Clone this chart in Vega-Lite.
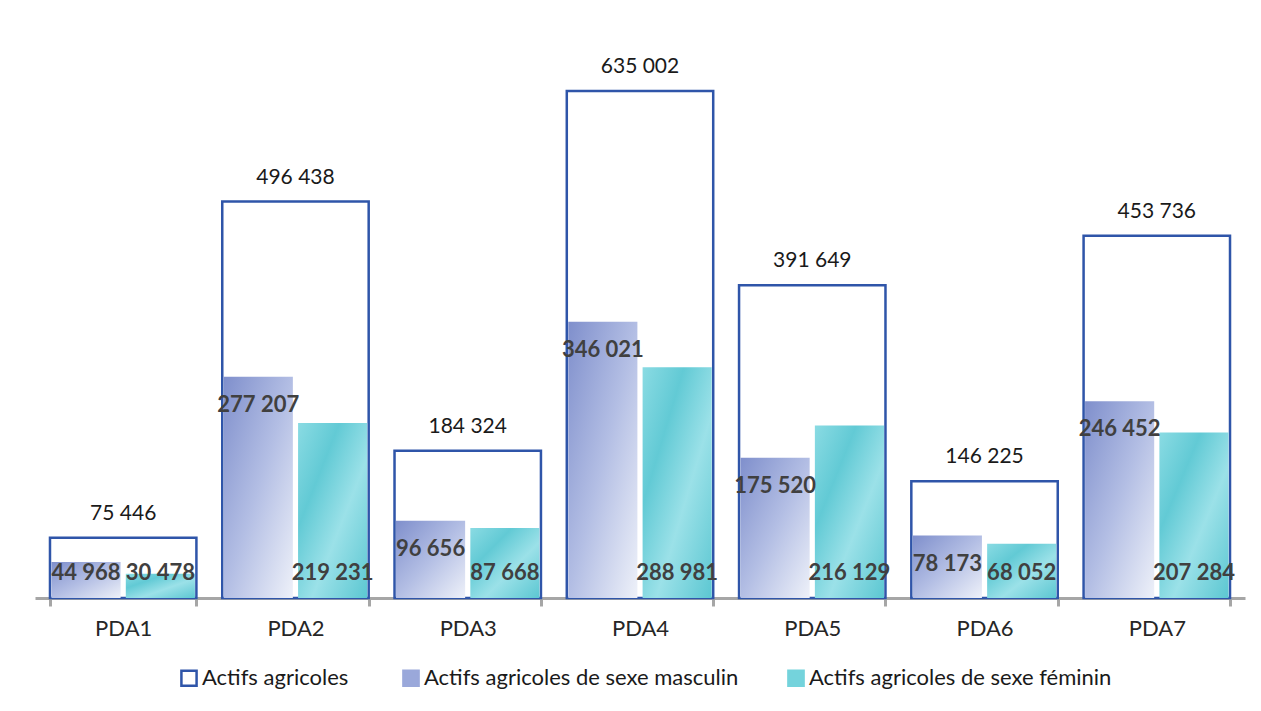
{
  "$schema": "https://vega.github.io/schema/vega-lite/v6.json",
  "width": 1210,
  "height": 559,
  "padding": {"left": 35, "top": 39, "right": 16, "bottom": 5},
  "background": "white",
  "config": {
    "view": {"stroke": null},
    "font": "Lato",
    "locale": {"number": {"decimal": ",", "thousands": " ", "grouping": [3], "currency": ["", " €"]}}
  },
  "data": {
    "values": [
      {"pda": "PDA1", "serie": "Actifs  agricoles", "value": 75446},
      {"pda": "PDA1", "serie": "Actifs agricoles de sexe masculin", "value": 44968},
      {"pda": "PDA1", "serie": "Actifs agricoles de sexe féminin", "value": 30478},
      {"pda": "PDA2", "serie": "Actifs  agricoles", "value": 496438},
      {"pda": "PDA2", "serie": "Actifs agricoles de sexe masculin", "value": 277207},
      {"pda": "PDA2", "serie": "Actifs agricoles de sexe féminin", "value": 219231},
      {"pda": "PDA3", "serie": "Actifs  agricoles", "value": 184324},
      {"pda": "PDA3", "serie": "Actifs agricoles de sexe masculin", "value": 96656},
      {"pda": "PDA3", "serie": "Actifs agricoles de sexe féminin", "value": 87668},
      {"pda": "PDA4", "serie": "Actifs  agricoles", "value": 635002},
      {"pda": "PDA4", "serie": "Actifs agricoles de sexe masculin", "value": 346021},
      {"pda": "PDA4", "serie": "Actifs agricoles de sexe féminin", "value": 288981},
      {"pda": "PDA5", "serie": "Actifs  agricoles", "value": 391649},
      {"pda": "PDA5", "serie": "Actifs agricoles de sexe masculin", "value": 175520},
      {"pda": "PDA5", "serie": "Actifs agricoles de sexe féminin", "value": 216129},
      {"pda": "PDA6", "serie": "Actifs  agricoles", "value": 146225},
      {"pda": "PDA6", "serie": "Actifs agricoles de sexe masculin", "value": 78173},
      {"pda": "PDA6", "serie": "Actifs agricoles de sexe féminin", "value": 68052},
      {"pda": "PDA7", "serie": "Actifs  agricoles", "value": 453736},
      {"pda": "PDA7", "serie": "Actifs agricoles de sexe masculin", "value": 246452},
      {"pda": "PDA7", "serie": "Actifs agricoles de sexe féminin", "value": 207284}
    ]
  },
  "encoding": {
    "x": {
      "field": "pda",
      "type": "nominal",
      "scale": {"paddingInner": 0.15, "paddingOuter": 0.087},
      "axis": {
        "title": null,
        "labelAngle": 0,
        "labelFontSize": 22,
        "labelFont": "Lato",
        "labelColor": "#262626",
        "domainColor": "#a6a6a6",
        "domainWidth": 3,
        "tickColor": "#a6a6a6",
        "tickWidth": 3,
        "tickSize": 8,
        "tickBand": "extent",
        "labelPadding": 12
      }
    }
  },
  "layer": [
    {
      "transform": [{"filter": "datum.serie === 'Actifs  agricoles'"}],
      "mark": {"type": "bar", "strokeWidth": 2.5},
      "encoding": {
        "y": {"field": "value", "type": "quantitative", "scale": {"domain": [0, 700000]}, "axis": null},
        "fill": {
          "field": "serie",
          "type": "nominal",
          "scale": {
            "domain": ["Actifs  agricoles", "Actifs agricoles de sexe masculin", "Actifs agricoles de sexe féminin"],
            "range": ["#ffffff", "#9aa8da", "#74d3dc"]
          },
          "legend": {
            "title": null,
            "orient": "none",
            "legendX": 143,
            "legendY": 628,
            "direction": "horizontal",
            "symbolType": "square",
            "symbolSize": 230,
            "symbolStrokeWidth": 2.5,
            "labelFontSize": 22,
            "labelFont": "Lato",
            "labelColor": "#1a1a1a",
            "labelOffset": 2,
            "columnPadding": 44,
            "labelLimit": 500
          }
        },
        "stroke": {
          "field": "serie",
          "type": "nominal",
          "scale": {
            "domain": ["Actifs  agricoles", "Actifs agricoles de sexe masculin", "Actifs agricoles de sexe féminin"],
            "range": ["#2f55a9", "#9aa8da", "#74d3dc"]
          },
          "legend": {
            "title": null,
            "orient": "none",
            "legendX": 143,
            "legendY": 628,
            "direction": "horizontal",
            "symbolType": "square",
            "symbolSize": 230,
            "symbolStrokeWidth": 2.5,
            "labelFontSize": 22,
            "labelFont": "Lato",
            "labelColor": "#1a1a1a",
            "labelOffset": 2,
            "columnPadding": 44,
            "labelLimit": 500
          }
        }
      }
    },
    {
      "transform": [{"filter": "datum.serie === 'Actifs agricoles de sexe masculin'"}],
      "mark": {
        "type": "bar",
        "fill": {
          "gradient": "linear",
          "x1": 0, "y1": 0, "x2": 1, "y2": 1,
          "stops": [
            {"offset": 0, "color": "#7f8fcc"},
            {"offset": 0.5, "color": "#b3bee4"},
            {"offset": 1, "color": "#eef1f9"}
          ]
        }
      },
      "encoding": {
        "y": {"field": "value", "type": "quantitative"},
        "xOffset": {
          "field": "serie",
          "type": "nominal",
          "scale": {
            "domain": ["Actifs agricoles de sexe masculin", "Actifs agricoles de sexe féminin"],
            "paddingInner": 0.07,
            "paddingOuter": 0.02
          }
        }
      }
    },
    {
      "transform": [{"filter": "datum.serie === 'Actifs agricoles de sexe féminin'"}],
      "mark": {
        "type": "bar",
        "fill": {
          "gradient": "linear",
          "x1": 0, "y1": 0, "x2": 1, "y2": 1,
          "stops": [
            {"offset": 0, "color": "#8adbe3"},
            {"offset": 0.3, "color": "#62cad5"},
            {"offset": 0.6, "color": "#9be1e8"},
            {"offset": 1, "color": "#5cc7d2"}
          ]
        }
      },
      "encoding": {
        "y": {"field": "value", "type": "quantitative"},
        "xOffset": {"field": "serie", "type": "nominal"}
      }
    },
    {
      "transform": [{"filter": "datum.serie === 'Actifs  agricoles'"}],
      "mark": {"type": "text", "baseline": "middle", "dy": -24, "fontSize": 21, "font": "Lato", "color": "#1a1a1a"},
      "encoding": {
        "y": {"field": "value", "type": "quantitative"},
        "text": {"field": "value", "type": "quantitative", "format": ",d"}
      }
    },
    {
      "transform": [
        {"filter": "datum.serie === 'Actifs agricoles de sexe masculin'"},
        {"calculate": "max(datum.value, 66000)", "as": "labelpos"}
      ],
      "mark": {"type": "text", "baseline": "middle", "dy": 28, "fontSize": 22, "font": "Lato", "fontWeight": "bold", "color": "#404040"},
      "encoding": {
        "y": {"field": "labelpos", "type": "quantitative"},
        "xOffset": {"field": "serie", "type": "nominal"},
        "text": {"field": "value", "type": "quantitative", "format": ",d"}
      }
    },
    {
      "transform": [{"filter": "datum.serie === 'Actifs agricoles de sexe féminin'"}],
      "mark": {"type": "text", "baseline": "middle", "dy": -25, "fontSize": 22, "font": "Lato", "fontWeight": "bold", "color": "#404040"},
      "encoding": {
        "y": {"datum": 0, "type": "quantitative"},
        "xOffset": {"field": "serie", "type": "nominal"},
        "text": {"field": "value", "type": "quantitative", "format": ",d"}
      }
    }
  ]
}
